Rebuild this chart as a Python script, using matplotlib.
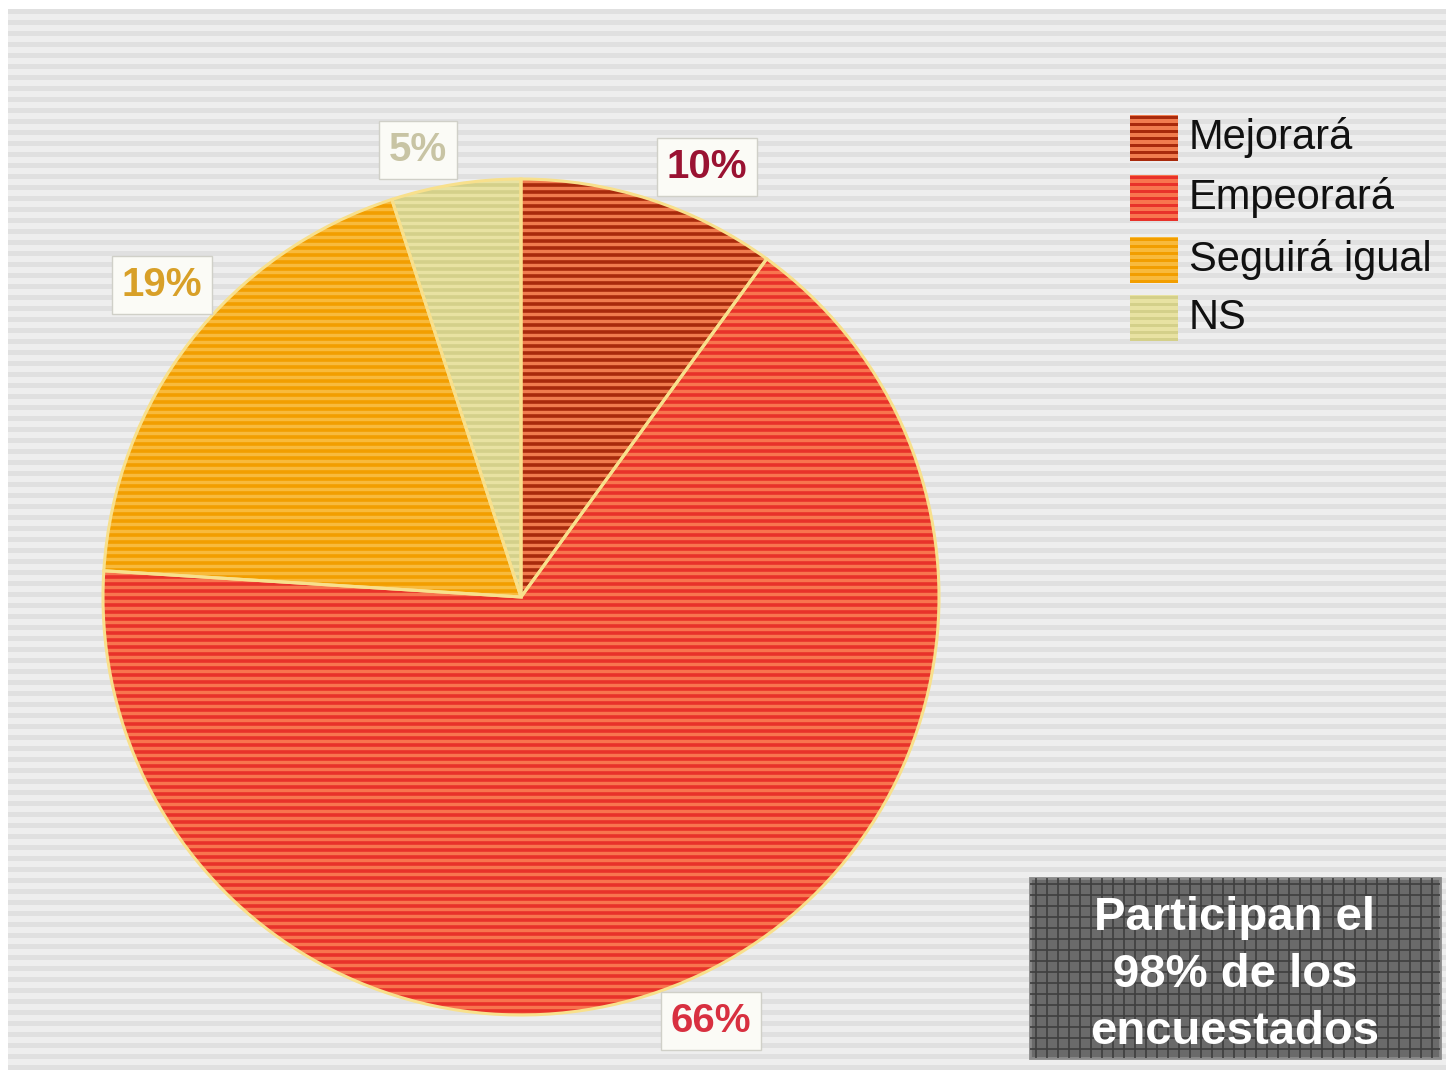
import numpy as np
import matplotlib
matplotlib.use("Agg")
import matplotlib.pyplot as plt
from matplotlib.patches import Rectangle, PathPatch
from matplotlib.collections import LineCollection

# Survey answers (percent of respondents)
categories = ["Mejorará", "Empeorará", "Seguirá igual", "NS"]
values = [10, 66, 19, 5]
labels = ["10%", "66%", "19%", "5%"]

# Slice colours: base tone and stripe tone
base_colors = ["#f07c4e", "#f8754e", "#f8ba3c", "#e8e2a2"]
stripe_colors = ["#a82a0c", "#e8322a", "#f29e00", "#d4d08a"]
label_colors = ["#9a1232", "#d83040", "#d8a028", "#c8c4a4"]

note_text = "Participan el\n98% de los\nencuestados"

W, H = 1446, 1071
fig = plt.figure(figsize=(W / 100, H / 100), dpi=100)
ax = fig.add_axes([0, 0, 1, 1])

narrow = ["Liberation Sans Narrow", "Liberation Sans", "DejaVu Sans"]


def py(y):
    """Convert a top-down pixel row to axes y."""
    return H - y


# Pie
cx, cy, r = 521, py(597), 418
wedges, _ = ax.pie(values, startangle=90, counterclock=False,
                   center=(cx, cy), radius=r, colors=base_colors,
                   wedgeprops=dict(edgecolor="none", zorder=1),
                   frame=True)
ax.set_xlim(0, W)
ax.set_ylim(0, H)
ax.set_aspect("equal")
ax.axis("off")

# Striped grey backdrop
ax.add_patch(Rectangle((8, py(1066)), W - 8, 1066 - 9, facecolor="#eeeeee",
                       edgecolor="none", zorder=0))
for y in np.arange(9, 1066, 11):
    ax.add_patch(Rectangle((8, py(y + 5)), W - 8, 5, facecolor="#e0e0e0",
                           edgecolor="none", zorder=0.5))

# Horizontal stripes clipped to each slice
ys = np.arange(cy - r - 3, cy + r + 3, 7.0)
for w, sc in zip(wedges, stripe_colors):
    segs = [[(cx - r - 5, y), (cx + r + 5, y)] for y in ys]
    lc = LineCollection(segs, colors=sc, linewidths=2.6, zorder=1.5)
    ax.add_collection(lc)
    lc.set_clip_path(w)
# slice borders on top of the stripes
for w in wedges:
    ax.add_patch(PathPatch(w.get_path(), transform=w.get_transform(),
                           fill=False, edgecolor="#f8e08c", linewidth=2.2,
                           zorder=2))

# Percentage labels in white boxes
label_pos = [(707, 167), (711, 1021), (162, 285), (418, 150)]
for (x, y), txt, col in zip(label_pos, labels, label_colors):
    ax.text(x, py(y), txt, ha="center", va="center", fontsize=29,
            family=narrow, fontweight="bold", color=col, zorder=5,
            bbox=dict(boxstyle="square,pad=0.25", facecolor="#fbfbf6",
                      edgecolor="#d0d0c8", linewidth=1))

# Legend
leg_y = [138, 198, 260, 318]
for y, cat, bc, sc in zip(leg_y, categories, base_colors, stripe_colors):
    ax.add_patch(Rectangle((1130, py(y + 23)), 48, 46, facecolor=bc,
                           edgecolor="none", zorder=3))
    for k in range(0, 46, 7):
        ax.add_patch(Rectangle((1130, py(y + 23) + k), 48, 3, facecolor=sc,
                               edgecolor="none", zorder=3.5))
    ax.text(1189, py(y), cat, ha="left", va="center", fontsize=30,
            family=narrow, color="#111111", zorder=5)

# Note box
bx0, by0, bx1, by1 = 1030, 878, 1440, 1058
ax.add_patch(Rectangle((bx0, py(by1)), bx1 - bx0, by1 - by0,
                       facecolor="#6a6a6a", edgecolor="#8a8a8a",
                       linewidth=2, zorder=3))
grid = []
for x in np.arange(bx0 + 6, bx1, 11):
    grid.append([(x, py(by1)), (x, py(by0))])
for y in np.arange(by0 + 6, by1, 11):
    grid.append([(bx0, py(y)), (bx1, py(y))])
ax.add_collection(LineCollection(grid, colors="#3e3e3e", linewidths=1.2,
                                 zorder=3.5))
ax.text((bx0 + bx1) / 2, py((by0 + by1) / 2 + 7), note_text, ha="center",
        va="center", fontsize=34, fontweight="bold", color="white",
        family=["Liberation Sans", "DejaVu Sans"], linespacing=1.38, zorder=5)

fig.savefig("out.png", dpi=100, facecolor="white")
